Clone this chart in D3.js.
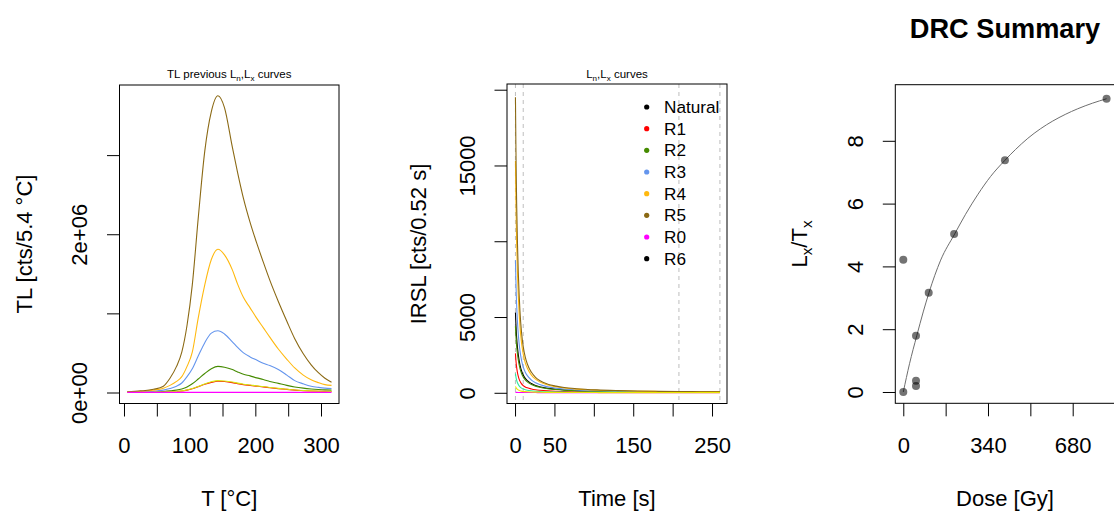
<!DOCTYPE html>
<html><head><meta charset="utf-8">
<script src="https://cdn.jsdelivr.net/npm/d3@7"></script>
<style>
body{margin:0;background:#fff}
svg{display:block;font-family:"Liberation Sans",Arial,Helvetica,sans-serif}
</style>
</head><body>
<svg id="c" width="1114" height="513"></svg>
<script>
// ---------------- DATA ----------------
// TL panel (temperature in °C, counts per 5.4 °C)
const tlTemp = [5,25,45,60,70,80,88,96,104,113,123,133,143,153,165,173,182,192,202,212,222,235,248,260,273,285,296,306,316];
const tlR1 = [1900,2900,3800,5700,8600,13000,19000,30000,47000,73000,103000,128000,143000,139000,125000,112000,100000,90000,80000,71000,61000,49000,39000,30000,24000,19000,16000,14000,13000];
const tlR2 = [3000,5000,8000,13000,20000,30000,45000,70000,110000,170000,240000,300000,330000,320000,290000,260000,230000,210000,185000,165000,140000,115000,90000,70000,55000,45000,38000,33000,30000];
const tlR3 = [5000,8000,15000,30000,50000,80000,120000,200000,300000,460000,630000,750000,780000,740000,640000,570000,500000,450000,410000,370000,340000,290000,220000,150000,110000,80000,65000,55000,50000];
const tlR4 = [8000,15000,30000,55000,90000,140000,200000,330000,510000,940000,1360000,1680000,1810000,1740000,1550000,1370000,1200000,1070000,940000,820000,700000,550000,420000,310000,220000,160000,125000,100000,90000];
const tlR5 = [10000,20000,40000,80000,180000,330000,510000,850000,1360000,2200000,3050000,3550000,3750000,3600000,3100000,2780000,2450000,2150000,1890000,1650000,1420000,1150000,900000,680000,490000,350000,250000,180000,130000];
const tlYel = [2000,3000,4000,6000,9000,14000,20000,32000,50000,77000,108000,135000,150000,146000,132000,118000,105000,95000,84000,75000,64000,52000,41000,32000,25000,20000,17000,15000,14000];
const tlR0 = [1000,1000,1000,1000,1000,1000,1000,1000,1000,1000,1000,1000,1000,1000,1000,1000,1000,1000,1000,1000,1000,1000,1000,1000,1000,1000,1000,1000,1000];
const tlXTicks = [0,50,100,150,200,250,300];
const tlXLabels = ["0","","100","","200","","300"];
const tlYTicks = [0,1e6,2e6,3e6];
const tlYLabels = ["0e+00","","2e+06",""];

// IRSL panel (time in s, counts per 0.52 s)
const irslTime = [0.52,1.04,1.56,2.08,3.12,4.16,5.2,6.24,8.32,10.4,13,15.6,20.8,26,31.2,41.6,52,62.4,78,104,130,156,182,208,234,260];
const irslNatural = [5300,4600,4050,3620,2980,2500,2140,1850,1440,1170,950,800,610,485,400,290,230,185,145,105,82,68,58,50,45,41];
const irslR1 = [2600,2200,1900,1660,1320,1080,900,770,590,475,385,325,250,200,168,125,100,83,67,50,41,35,31,28,26,24];
const irslR2 = [4400,3850,3400,3050,2540,2150,1850,1610,1270,1040,850,720,550,440,365,270,215,175,138,100,80,66,56,49,44,40];
const irslR3 = [8750,7500,6500,5750,4650,3850,3250,2780,2120,1700,1360,1130,840,660,540,390,305,245,190,135,105,85,72,62,55,50];
const irslR4 = [15300,13000,11200,9800,7800,6350,5250,4400,3250,2550,1980,1620,1170,900,720,510,395,315,240,170,130,105,88,75,66,58];
const irslR5 = [19500,16500,14200,12400,9800,7900,6500,5400,3950,3050,2350,1900,1350,1020,810,570,440,350,270,190,145,115,95,80,70,62];
const irslR0 = [30,28,26,25,23,22,21,20,19,18,17,16,15,14,13,12,12,11,11,10,10,10,10,10,10,10];
const irslMint = [1270,1080,935,820,660,545,460,395,305,248,202,170,130,105,88,66,53,45,37,29,25,22,20,18,17,16];
const irslYel = [420,360,315,280,228,190,162,140,110,90,75,64,50,41,35,27,23,20,17,14,12,11,10,9,9,8];
const irslIntegrals = [0.52,10.4,208,260];
const irslXTicks = [0,50,100,150,200,250];
const irslXLabels = ["0","50","","150","","250"];
const irslYTicks = [0,5000,10000,15000,20000];
const irslYLabels = ["0","5000","","15000",""];
const legendNames = ["Natural","R1","R2","R3","R4","R5","R0","R6"];
const legendColors = ["#000000","#FF0000","#458B00","#6495ED","#FFB90F","#8B6914","#FF00FF","#000000"];

// DRC panel
const drcDose = [0,51,102,204,408,816,0,51,51];
const drcLxTx = [4.21,1.79,3.16,5.03,7.38,9.34,0.0,0.36,0.19];
const drcFitDose = [0,25,54,80,103,150,206,250,300,350,408,450,500,550,600,650,700,760,816];
const drcFitLxTx = [0,0.9,1.79,2.55,3.16,4.2,5.03,5.66,6.3,6.86,7.38,7.72,8.08,8.38,8.63,8.84,9.02,9.2,9.34];
const drcXTicks = [0,170,340,510,680];
const drcXLabels = ["0","","340","","680"];
const drcYTicks = [0,2,4,6,8];
const drcYLabels = ["0","2","4","6","8"];

// ---------------- DRAW ----------------
const svg = d3.select("#c");
const FS = 22;

function panel(o){
  const g = svg.append("g");
  const x = d3.scaleLinear().domain(o.xd).range([o.left,o.right]);
  const y = d3.scaleLinear().domain(o.yd).range([o.bottom,o.top]);
  const clipId = "clip"+o.id;
  svg.append("clipPath").attr("id",clipId).append("rect")
    .attr("x",o.left).attr("y",o.top).attr("width",o.right-o.left).attr("height",o.bottom-o.top);
  const plot = g.append("g").attr("clip-path",`url(#${clipId})`);
  const xa = g.append("g").attr("transform",`translate(0,${o.bottom})`)
    .call(d3.axisBottom(x).tickValues(o.xt).tickSize(13).tickSizeOuter(0)
      .tickFormat((d,i)=>o.xl[i]));
  xa.select(".domain").remove();
  xa.selectAll("line").attr("stroke","#000");
  xa.selectAll("text").attr("y",49.5).attr("dy",0).attr("font-size",FS).attr("fill","#000").attr("font-family",null);
  const ya = g.append("g").attr("transform",`translate(${o.left},0)`)
    .call(d3.axisLeft(y).tickValues(o.yt).tickSize(12.5).tickSizeOuter(0)
      .tickFormat((d,i)=>o.yl[i]));
  ya.select(".domain").remove();
  ya.selectAll("line").attr("stroke","#000");
  ya.selectAll("text").attr("x",null).attr("y",null).attr("dy",0)
    .attr("text-anchor","middle").attr("transform","translate(-32.5,0) rotate(-90)")
    .attr("font-size",FS).attr("fill","#000").attr("font-family",null);
  g.append("rect").attr("x",o.left).attr("y",o.top).attr("width",o.right-o.left).attr("height",o.bottom-o.top)
    .attr("fill","none").attr("stroke","#000").attr("stroke-width",1);
  g.append("text").attr("x",(o.left+o.right)/2).attr("y",506).attr("text-anchor","middle")
    .attr("font-size",FS).text(o.xlab);
  return {g,plot,x,y};
}

function drawLines(p, xs, list){
  const line = d3.line().curve(d3.curveMonotoneX);
  list.forEach(s=>{
    p.plot.append("path").attr("d", line(xs.map((v,i)=>[p.x(v),p.y(s.v[i])])))
      .attr("fill","none").attr("stroke",s.c).attr("stroke-width",1.1);
  });
}

function subTitle(cx, parts, fs, base){
  const t = svg.append("text").attr("x",cx).attr("y",base).attr("text-anchor","middle")
    .attr("font-size",fs).attr("fill","#000");
  parts.forEach(pt=>{
    const ts = t.append("tspan").text(pt.t);
    if(pt.sub){ ts.attr("font-size",fs*0.7).attr("dy",fs*0.25); }
    if(pt.back){ ts.attr("dy",-fs*0.25); }
  });
  return t;
}

// Panel 1: TL
const p1 = panel({id:1,left:119.5,right:339,top:85,bottom:403.5,
  xd:[-6.85,327.4], yd:[-0.139e6,3.886e6],
  xt:tlXTicks, xl:tlXLabels, yt:tlYTicks, yl:tlYLabels, xlab:"T [°C]"});
drawLines(p1, tlTemp, [
  {v:tlR1,c:"#FF0000"},{v:tlR2,c:"#458B00"},{v:tlR3,c:"#6495ED"},
  {v:tlR4,c:"#FFB90F"},{v:tlR5,c:"#8B6914"},{v:tlYel,c:"#D6EA10"},{v:tlR0,c:"#FF00FF"}]);
svg.append("text").attr("transform","translate(32,244) rotate(-90)").attr("text-anchor","middle")
  .attr("font-size",FS).text("TL [cts/5.4 °C]");
subTitle(229.3,[{t:"TL previous L"},{t:"n",sub:true},{t:",L",back:true},{t:"x",sub:true},{t:" curves",back:true}],11.5,78);

// Panel 2: IRSL
const p2 = panel({id:2,left:507,right:727,top:84,bottom:403.5,
  xd:[-10.2,269.0], yd:[-707,20377],
  xt:irslXTicks, xl:irslXLabels, yt:irslYTicks, yl:irslYLabels, xlab:"Time [s]"});
irslIntegrals.forEach(t=>{
  p2.plot.append("line").attr("x1",p2.x(t)).attr("x2",p2.x(t)).attr("y1",84).attr("y2",403.5)
    .attr("stroke","#BEBEBE").attr("stroke-width",1).attr("stroke-dasharray","4,4");
});
drawLines(p2, irslTime, [
  {v:irslR0,c:"#FF00FF"},{v:irslNatural,c:"#000000"},{v:irslR1,c:"#FF0000"},{v:irslR2,c:"#458B00"},
  {v:irslR3,c:"#6495ED"},{v:irslR4,c:"#FFB90F"},{v:irslR5,c:"#8B6914"},
  {v:irslMint,c:"#2EE8A0"},{v:irslYel,c:"#E8E800"}]);
svg.append("text").attr("transform","translate(426,244) rotate(-90)").attr("text-anchor","middle")
  .attr("font-size",FS).text("IRSL [cts/0.52 s]");
subTitle(617,[{t:"L"},{t:"n",sub:true},{t:",L",back:true},{t:"x",sub:true},{t:" curves",back:true}],11.5,78);
const lg = svg.append("g");
legendNames.forEach((n,i)=>{
  const yy = 107 + i*21.67;
  lg.append("circle").attr("cx",646.7).attr("cy",yy).attr("r",2.6).attr("fill",legendColors[i]);
  lg.append("text").attr("x",664).attr("y",yy+6).attr("font-size",17.2).text(n);
});

// Panel 3: DRC
const p3 = panel({id:3,left:895.3,right:1114.7,top:84.7,bottom:403.3,
  xd:[-32.1,848.6], yd:[-0.36,9.787],
  xt:drcXTicks, xl:drcXLabels, yt:drcYTicks, yl:drcYLabels, xlab:"Dose [Gy]"});
p3.plot.append("path")
  .attr("d", d3.line().curve(d3.curveMonotoneX)(drcFitDose.map((d,i)=>[p3.x(d),p3.y(drcFitLxTx[i])])))
  .attr("fill","none").attr("stroke","#6E6E6E").attr("stroke-width",1);
p3.plot.selectAll("circle.pt").data(drcDose).enter().append("circle")
  .attr("cx",(d)=>p3.x(d)).attr("cy",(d,i)=>p3.y(drcLxTx[i])).attr("r",4)
  .attr("fill","#000").attr("fill-opacity",0.55);
const yl3 = svg.append("text").attr("transform","translate(807,244) rotate(-90)").attr("text-anchor","middle").attr("font-size",FS);
yl3.append("tspan").text("L");
yl3.append("tspan").text("x").attr("font-size",FS*0.7).attr("dy",5);
yl3.append("tspan").text("/T").attr("dy",-5);
yl3.append("tspan").text("x").attr("font-size",FS*0.7).attr("dy",5);
svg.append("text").attr("x",1005).attr("y",38.3).attr("text-anchor","middle")
  .attr("font-size",27.2).attr("font-weight","bold").text("DRC Summary");
</script>
</body></html>
